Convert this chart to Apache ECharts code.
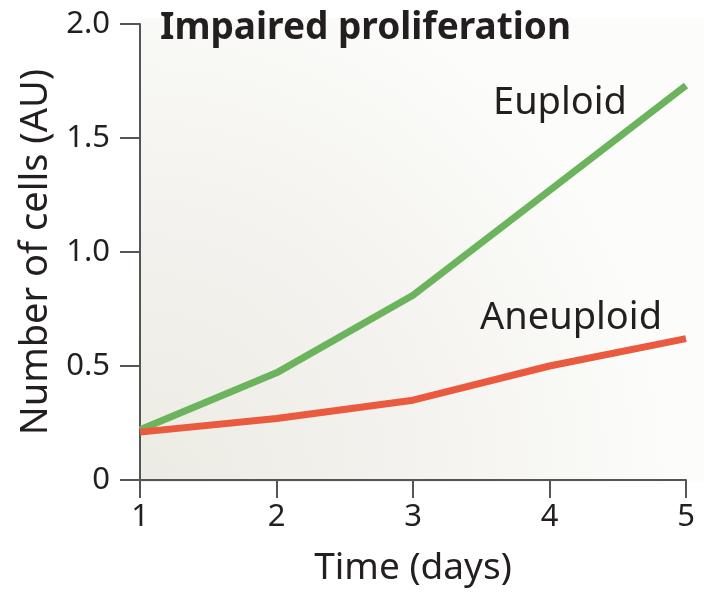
<!DOCTYPE html>
<html>
<head>
<meta charset="utf-8">
<script src="https://cdn.jsdelivr.net/npm/echarts@6/dist/echarts.min.js"></script>
<style>
html, body { margin: 0; padding: 0; background: #fff; }
#chart { width: 704px; height: 592px; }
</style>
</head>
<body>
<div id="chart"></div>
<script>
// days
const days = [1, 2, 3, 4, 5]
// number of cells (AU)
const euploid = [0.22, 0.47, 0.81, 1.27, 1.73]
const aneuploid = [0.21, 0.27, 0.35, 0.50, 0.62]
const yTicks = ['0', '0.5', '1.0', '1.5', '2.0']

const FONT = 'Noto Sans'
const INK = '#231f20'
const pair = (xs, ys) => xs.map((d, i) => [d, ys[i]])

const chart = echarts.init(document.getElementById('chart'))
chart.setOption({
	animation: false,
	textStyle: { fontFamily: FONT },
	grid: { left: 140, right: 18, top: 24, bottom: 110 },
	graphic: [
		{
			// soft radial beige background behind the plot
			type: 'rect', z: -10, silent: true,
			shape: { x: 140, y: 18, width: 564, height: 464 },
			style: {
				fill: {
					type: 'radial', x: 0, y: 1, r: 1.15, global: false,
					colorStops: [
						{ offset: 0, color: '#ecebe3' },
						{ offset: 0.5, color: '#f3f2ee' },
						{ offset: 1, color: '#fcfcfa' }
					]
				}
			}
		},
		{
			type: 'text', left: 160, top: 10,
			style: { text: 'Impaired proliferation', font: 'bold 37px "Noto Sans"', fill: INK }
		},
		{
			type: 'text', left: 493, top: 84,
			style: { text: 'Euploid', font: '38px "Noto Sans"', fill: INK }
		},
		{
			type: 'text', left: 480, top: 299,
			style: { text: 'Aneuploid', font: '38px "Noto Sans"', fill: INK }
		}
	],
	xAxis: {
		type: 'value', min: 1, max: 5, interval: 1,
		name: 'Time (days)', nameLocation: 'middle', nameGap: 70,
		nameTextStyle: { fontSize: 37, color: INK, fontFamily: FONT },
		axisLine: { show: true, lineStyle: { color: '#555', width: 2 } },
		axisTick: { show: true, length: 18, lineStyle: { color: '#555', width: 2 } },
		axisLabel: { fontSize: 31, color: INK, margin: 22, fontFamily: FONT },
		splitLine: { show: false }
	},
	yAxis: {
		type: 'value', min: 0, max: 2, interval: 0.5,
		name: 'Number of cells (AU)', nameLocation: 'middle', nameGap: 84,
		nameTextStyle: { fontSize: 38, color: INK, fontFamily: FONT },
		axisLine: { show: true, lineStyle: { color: '#555', width: 2 } },
		axisTick: { show: true, length: 20, lineStyle: { color: '#555', width: 2 } },
		axisLabel: {
			fontSize: 31, color: INK, margin: 30, fontFamily: FONT,
			formatter: (v) => yTicks[Math.round(v / 0.5)]
		},
		splitLine: { show: false }
	},
	series: [
		{
			name: 'Euploid', type: 'line', data: pair(days, euploid),
			symbol: 'none', lineStyle: { color: '#6cb35e', width: 7 }, z: 3
		},
		{
			name: 'Aneuploid', type: 'line', data: pair(days, aneuploid),
			symbol: 'none', lineStyle: { color: '#e95a3f', width: 7 }, z: 4
		}
	]
})
</script>
</body>
</html>
